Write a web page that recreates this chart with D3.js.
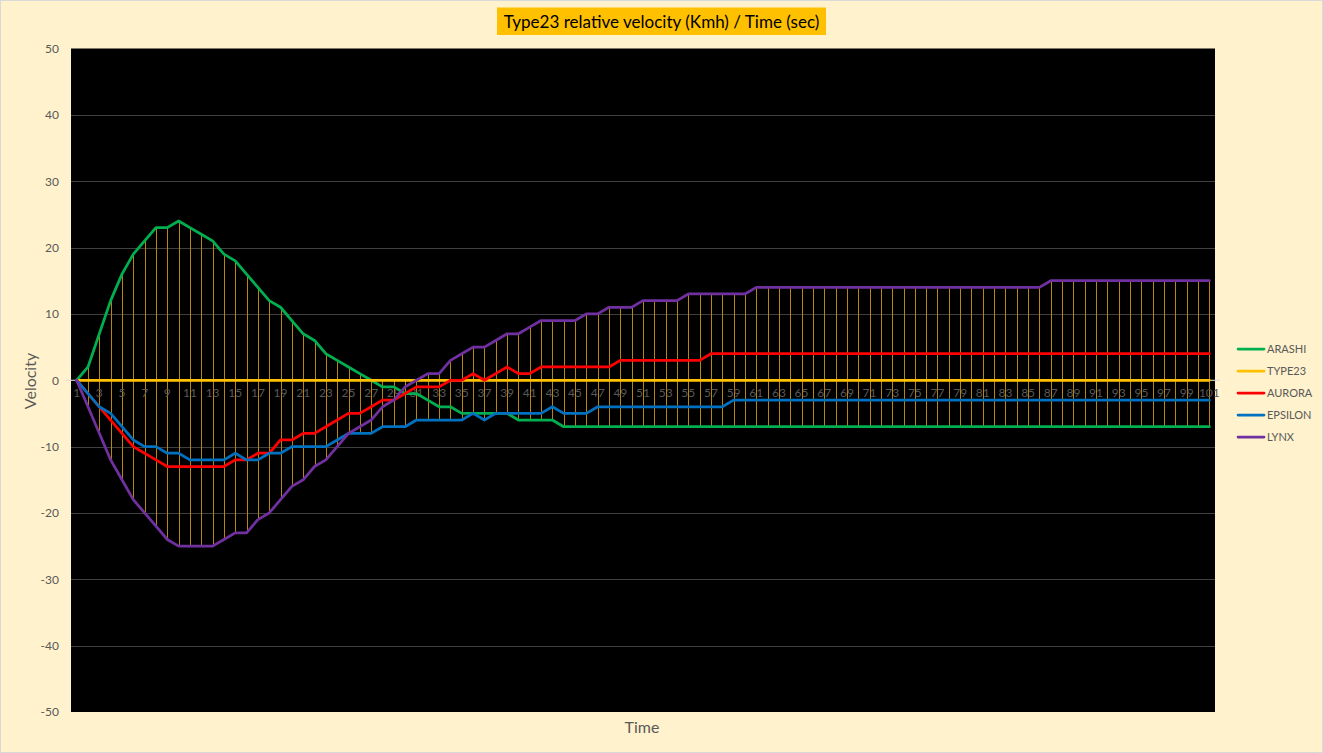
<!DOCTYPE html>
<html>
<head>
<meta charset="utf-8">
<script src="https://cdn.jsdelivr.net/npm/d3@7/dist/d3.min.js"></script>
<style>
  html, body { margin: 0; padding: 0; background: #FFF2CC; }
  svg { display: block; }
  text { font-family: Lato, "Open Sans", "Liberation Sans", sans-serif; }
</style>
</head>
<body>
<svg id="chart" width="1323" height="753"></svg>
<script>
// ---------- data ----------
const categories = d3.range(1, 102); // 1..101 seconds
const seriesNames = ["ARASHI", "TYPE23", "AURORA", "EPSILON", "LYNX"];
const seriesColors = ["#00B050", "#FFC000", "#FF0000", "#0070C0", "#7030A0"];

const ARASHI = [
  0, 2, 7, 12, 16, 19, 21, 23, 23, 24,
  23, 22, 21, 19, 18, 16, 14, 12, 11, 9,
  7, 6, 4, 3, 2, 1, 0, -1, -1, -2,
  -2, -3, -4, -4, -5, -5, -5, -5, -5, -6,
  -6, -6, -6, -7, -7, -7, -7, -7, -7, -7,
  -7, -7, -7, -7, -7, -7, -7, -7, -7, -7,
  -7, -7, -7, -7, -7, -7, -7, -7, -7, -7,
  -7, -7, -7, -7, -7, -7, -7, -7, -7, -7,
  -7, -7, -7, -7, -7, -7, -7, -7, -7, -7,
  -7, -7, -7, -7, -7, -7, -7, -7, -7, -7,
  -7
];
const TYPE23 = [
  0, 0, 0, 0, 0, 0, 0, 0, 0, 0,
  0, 0, 0, 0, 0, 0, 0, 0, 0, 0,
  0, 0, 0, 0, 0, 0, 0, 0, 0, 0,
  0, 0, 0, 0, 0, 0, 0, 0, 0, 0,
  0, 0, 0, 0, 0, 0, 0, 0, 0, 0,
  0, 0, 0, 0, 0, 0, 0, 0, 0, 0,
  0, 0, 0, 0, 0, 0, 0, 0, 0, 0,
  0, 0, 0, 0, 0, 0, 0, 0, 0, 0,
  0, 0, 0, 0, 0, 0, 0, 0, 0, 0,
  0, 0, 0, 0, 0, 0, 0, 0, 0, 0,
  0
];
const AURORA = [
  0, -2, -4, -6, -8, -10, -11, -12, -13, -13,
  -13, -13, -13, -13, -12, -12, -11, -11, -9, -9,
  -8, -8, -7, -6, -5, -5, -4, -3, -3, -2,
  -1, -1, -1, 0, 0, 1, 0, 1, 2, 1,
  1, 2, 2, 2, 2, 2, 2, 2, 3, 3,
  3, 3, 3, 3, 3, 3, 4, 4, 4, 4,
  4, 4, 4, 4, 4, 4, 4, 4, 4, 4,
  4, 4, 4, 4, 4, 4, 4, 4, 4, 4,
  4, 4, 4, 4, 4, 4, 4, 4, 4, 4,
  4, 4, 4, 4, 4, 4, 4, 4, 4, 4,
  4
];
const EPSILON = [
  0, -2, -4, -5, -7, -9, -10, -10, -11, -11,
  -12, -12, -12, -12, -11, -12, -12, -11, -11, -10,
  -10, -10, -10, -9, -8, -8, -8, -7, -7, -7,
  -6, -6, -6, -6, -6, -5, -6, -5, -5, -5,
  -5, -5, -4, -5, -5, -5, -4, -4, -4, -4,
  -4, -4, -4, -4, -4, -4, -4, -4, -3, -3,
  -3, -3, -3, -3, -3, -3, -3, -3, -3, -3,
  -3, -3, -3, -3, -3, -3, -3, -3, -3, -3,
  -3, -3, -3, -3, -3, -3, -3, -3, -3, -3,
  -3, -3, -3, -3, -3, -3, -3, -3, -3, -3,
  -3
];
const LYNX = [
  0, -4, -8, -12, -15, -18, -20, -22, -24, -25,
  -25, -25, -25, -24, -23, -23, -21, -20, -18, -16,
  -15, -13, -12, -10, -8, -7, -6, -4, -3, -1,
  0, 1, 1, 3, 4, 5, 5, 6, 7, 7,
  8, 9, 9, 9, 9, 10, 10, 11, 11, 11,
  12, 12, 12, 12, 13, 13, 13, 13, 13, 13,
  14, 14, 14, 14, 14, 14, 14, 14, 14, 14,
  14, 14, 14, 14, 14, 14, 14, 14, 14, 14,
  14, 14, 14, 14, 14, 14, 15, 15, 15, 15,
  15, 15, 15, 15, 15, 15, 15, 15, 15, 15,
  15
];
const yTicks = [-50, -40, -30, -20, -10, 0, 10, 20, 30, 40, 50];
const xTickLabels = categories.filter(c => c % 2 === 1);

const titleText = "Type23 relative velocity (Kmh) / Time (sec)";
const yAxisTitle = "Velocity";
const xAxisTitle = "Time";

// ---------- layout ----------
const W = 1323, H = 753;
const plot = { left: 71, right: 1215, top: 48.5, bottom: 712 };
const svg = d3.select("#chart");

svg.append("rect").attr("x", 0.5).attr("y", 0.5).attr("width", W - 1).attr("height", H - 1)
  .attr("fill", "#FFF2CC").attr("stroke", "#D9D9D9");

const x = d3.scaleBand().domain(categories).range([plot.left, plot.right]).paddingInner(0).paddingOuter(0);
const xc = c => x(c) + x.bandwidth() / 2;
const y = d3.scaleLinear().domain([-50, 50]).range([plot.bottom, plot.top]);

// plot area
svg.append("rect").attr("x", plot.left).attr("y", plot.top)
  .attr("width", plot.right - plot.left).attr("height", plot.bottom - plot.top)
  .attr("fill", "#000000");

// gridlines
svg.append("g").selectAll("line").data(yTicks.filter(t => t !== -50 && t !== 50)).join("line")
  .attr("x1", plot.left).attr("x2", plot.right)
  .attr("y1", d => Math.round(y(d)) + 0.5).attr("y2", d => Math.round(y(d)) + 0.5)
  .attr("stroke", "#404040").attr("stroke-width", 1);

// y axis labels (plain hyphen minus, as in the reference)
const yAxis = d3.axisLeft(y).tickValues(yTicks).tickFormat(d => String(d)).tickSize(0).tickPadding(12);
const gy = svg.append("g").attr("transform", `translate(${plot.left},0)`).call(yAxis);
gy.select(".domain").remove();
gy.selectAll("text").attr("fill", "#595959").attr("font-size", 12)
  .style("font-family", "Lato, 'Open Sans', sans-serif");

// horizontal category axis at 0
svg.append("line").attr("x1", plot.left - 5).attr("x2", plot.right + 5)
  .attr("y1", y(0)).attr("y2", y(0)).attr("stroke", "#D9D9D9").attr("stroke-width", 1);

// high-low lines
const allSeries = [ARASHI, TYPE23, AURORA, EPSILON, LYNX];
svg.append("g").selectAll("line").data(categories).join("line")
  .attr("x1", c => Math.round(xc(c)) + 0.5).attr("x2", c => Math.round(xc(c)) + 0.5)
  .attr("y1", (c, i) => y(d3.max(allSeries, s => s[i])))
  .attr("y2", (c, i) => y(d3.min(allSeries, s => s[i])))
  .attr("stroke", "#B8860B").attr("stroke-width", 1);

// x tick labels (on the 0 line)
const xAxis = d3.axisBottom(x).tickValues(xTickLabels).tickSize(0).tickPadding(8);
const gx = svg.append("g").attr("transform", `translate(0,${y(0)})`).call(xAxis);
gx.select(".domain").remove();
gx.selectAll("text").attr("fill", "#595959").attr("font-size", 12)
  .style("font-family", "Lato, 'Open Sans', sans-serif");

// series lines
const line = d3.line().x((d, i) => xc(categories[i])).y(d => y(d));
allSeries.forEach((s, k) => {
  svg.append("path").datum(s).attr("d", line)
    .attr("fill", "none").attr("stroke", seriesColors[k])
    .attr("stroke-width", 2.75).attr("stroke-linejoin", "round").attr("stroke-linecap", "round");
});

// title
const tg = svg.append("g");
const tBox = tg.append("rect").attr("fill", "#FFC000");
const tText = tg.append("text").text(titleText).attr("x", 661.5).attr("y", 28)
  .attr("text-anchor", "middle").attr("font-size", 18).attr("fill", "#000");
const tw = tText.node().getComputedTextLength();
const fs = 18 * 316 / tw;
tText.attr("font-size", fs);
tBox.attr("x", 497).attr("y", 7.5).attr("width", 329).attr("height", 27.5);

// axis titles
svg.append("text").text(yAxisTitle).attr("transform", `translate(36,381) rotate(-90)`)
  .attr("text-anchor", "middle").attr("font-size", 16).attr("fill", "#595959");
svg.append("text").text(xAxisTitle).attr("x", 642).attr("y", 733)
  .attr("text-anchor", "middle").attr("font-size", 16).attr("fill", "#595959");

// legend
const lg = svg.append("g");
seriesNames.forEach((n, k) => {
  const ly = 349 + k * 22;
  lg.append("line").attr("x1", 1238).attr("x2", 1264).attr("y1", ly).attr("y2", ly)
    .attr("stroke", seriesColors[k]).attr("stroke-width", 2.75).attr("stroke-linecap", "round");
  lg.append("text").text(n).attr("x", 1267).attr("y", ly + 4)
    .attr("font-size", 11).attr("fill", "#595959");
});
</script>
</body>
</html>
